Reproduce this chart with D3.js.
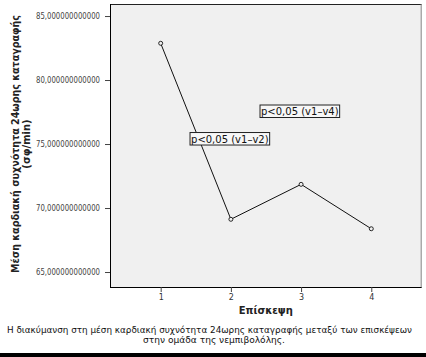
<!DOCTYPE html>
<html>
<head>
<meta charset="utf-8">
<script src="https://cdn.jsdelivr.net/npm/d3@7"></script>
<style>
  html, body { margin: 0; padding: 0; background: #fff; }
  svg { display: block; }
  text { font-family: "DejaVu Sans", Verdana, sans-serif; }
</style>
</head>
<body>
<svg id="chart" width="426" height="357"></svg>
<script>
// Data
const visits = [1, 2, 3, 4];
const meanHR = [82.87, 69.12, 71.85, 68.38];
const yTicks = [65, 70, 75, 80, 85];
const annotations = ["p<0,05 (v1\u2013v4)", "p<0,05 (v1\u2013v2)"];
const annotationX = [2.415, 1.418];
const annotationY = [77.58, 75.43];

const W = 426, H = 357;
const m = { left: 110, top: 4, right: 4.3, bottom: 70 };
const svg = d3.select("#chart");

const x = d3.scaleLinear().domain([0.278, 4.718]).range([m.left, W - m.right]);
const y = d3.scaleLinear().domain([63.83, 85.94]).range([H - m.bottom, m.top]);

// plot background
svg.append("rect")
  .attr("x", x.range()[0]).attr("y", y.range()[1])
  .attr("width", x.range()[1] - x.range()[0])
  .attr("height", y.range()[0] - y.range()[1])
  .attr("fill", "#f0f0f0");

// top and right frame
svg.append("line").attr("x1", x.range()[0]).attr("x2", x.range()[1])
  .attr("y1", y.range()[1] + 0.5).attr("y2", y.range()[1] + 0.5)
  .attr("stroke", "#222").attr("stroke-width", 1);
svg.append("line").attr("x1", x.range()[1] - 0.5).attr("x2", x.range()[1] - 0.5)
  .attr("y1", y.range()[1]).attr("y2", y.range()[0])
  .attr("stroke", "#888").attr("stroke-width", 1);

// axes
const yAxis = d3.axisLeft(y).tickValues(yTicks).tickSize(5).tickPadding(5)
  .tickFormat(d => d3.format(".12f")(d).replace(".", ","));
const gy = svg.append("g").attr("transform", `translate(${m.left},0)`).call(yAxis);
gy.select(".domain").attr("stroke", "#000").attr("d", `M0.5,${y.range()[1]}V${y.range()[0]}`);
gy.selectAll(".tick line").attr("stroke", "#444");
gy.selectAll(".tick text").attr("font-size", "8px").attr("fill", "#444")
  .attr("font-family", "DejaVu Sans, sans-serif")
  .attr("textLength", 64).attr("lengthAdjust", "spacingAndGlyphs");

const xAxis = d3.axisBottom(x).tickValues(visits).tickSize(5).tickPadding(2).tickFormat(d3.format("d"));
const gx = svg.append("g").attr("transform", `translate(0,${H - m.bottom})`).call(xAxis);
gx.select(".domain").attr("stroke", "#000").attr("d", `M${x.range()[0]},0.5H${x.range()[1]}`);
gx.selectAll(".tick line").attr("stroke", "#444");
gx.selectAll(".tick text").attr("font-size", "8px").attr("fill", "#333")
  .attr("font-family", "DejaVu Sans, sans-serif");

// line
const pts = visits.map((v, i) => [v, meanHR[i]]);
svg.append("path").datum(pts)
  .attr("fill", "none").attr("stroke", "#111").attr("stroke-width", 1)
  .attr("d", d3.line().x(d => x(d[0])).y(d => y(d[1])));
svg.selectAll("circle.pt").data(pts).join("circle")
  .attr("class", "pt")
  .attr("cx", d => x(d[0])).attr("cy", d => y(d[1])).attr("r", 2)
  .attr("fill", "#f0f0f0").attr("stroke", "#111").attr("stroke-width", 0.9);

// annotations
annotations.forEach((t, i) => {
  const g = svg.append("g").attr("transform", `translate(${x(annotationX[i])},${y(annotationY[i])})`);
  const txt = g.append("text").attr("x", 1).attr("y", 4).attr("font-size", "10px").attr("fill", "#111").text(t);
  const bb = txt.node().getBBox();
  g.insert("rect", "text")
    .attr("x", bb.x - 1).attr("y", -6).attr("width", bb.width + 2).attr("height", 12.5)
    .attr("fill", "#f7f7f7").attr("stroke", "#222").attr("stroke-width", 1);
});

// axis titles
const yMid = 144;
svg.append("text")
  .attr("transform", `translate(19,${yMid}) rotate(-90)`)
  .attr("text-anchor", "middle").attr("font-size", "10px").attr("font-weight", "bold").attr("fill", "#222")
  .attr("textLength", 258).attr("lengthAdjust", "spacingAndGlyphs")
  .text("Μέση καρδιακή συχνότητα 24ωρης καταγραφής");
svg.append("text")
  .attr("transform", `translate(30,${yMid}) rotate(-90)`)
  .attr("text-anchor", "middle").attr("font-size", "10px").attr("font-weight", "bold").attr("fill", "#222")
  .text("(σφ/min)");
svg.append("text")
  .attr("x", (x.range()[0] + x.range()[1]) / 2).attr("y", 314)
  .attr("text-anchor", "middle").attr("font-size", "10px").attr("font-weight", "bold").attr("fill", "#222")
  .text("Επίσκεψη");

// caption
svg.append("text").attr("x", 209.5).attr("y", 333).attr("text-anchor", "middle")
  .attr("font-size", "8.5px").attr("fill", "#111")
  .attr("textLength", 405).attr("lengthAdjust", "spacingAndGlyphs")
  .text("Η διακύμανση στη μέση καρδιακή συχνότητα 24ωρης καταγραφής μεταξύ των επισκέψεων");
svg.append("text").attr("x", 214).attr("y", 343).attr("text-anchor", "middle")
  .attr("font-size", "8.5px").attr("fill", "#111")
  .attr("textLength", 142).attr("lengthAdjust", "spacingAndGlyphs")
  .text("στην ομάδα της νεμπιβολόλης.");

// bottom black band
svg.append("rect").attr("x", 0).attr("y", 353).attr("width", W).attr("height", 4).attr("fill", "#000");
</script>
</body>
</html>
